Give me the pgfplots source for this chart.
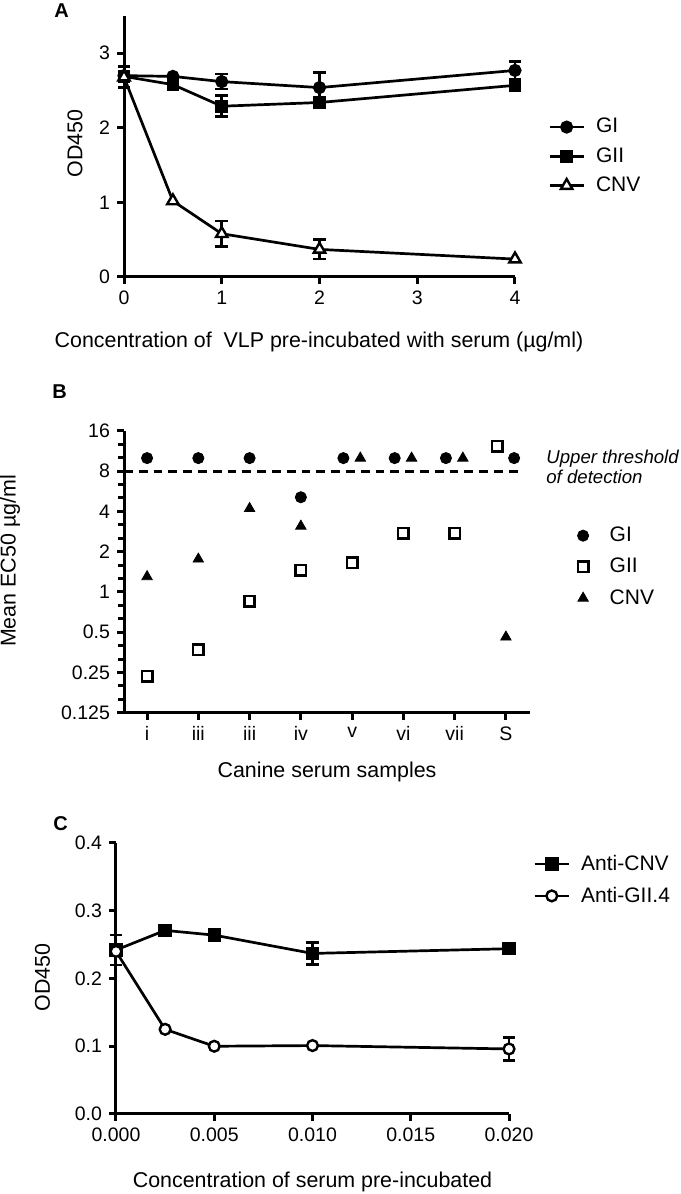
\documentclass[border=0pt]{standalone}
\usepackage{fontspec}
\setmainfont{Liberation Sans}
\usepackage{pgfplots}
\pgfplotsset{compat=1.18}

\pgfplotsset{prism/.style={
  scale only axis,
  axis lines=left,
  axis line style={line width=1.5pt, -},
  tick style={line width=1.5pt, black},
  tick align=outside,
  major tick length=3.5pt,
  minor tick length=3pt,
  tick label style={font=\fontsize{9.75}{11}\selectfont},
  /pgf/number format/assume math mode=true,
  legend style={draw=none, fill=none, inner sep=0pt, font=\fontsize{10.5}{12}\selectfont, cells={anchor=west}},
  legend cell align=left,
  clip=false,
}}
\pgfplotsset{errb/.style={error bars/.cd, y dir=both, y explicit,
  error bar style={line width=1.3pt, black},
  error mark options={rotate=90, mark size=3.2pt, line width=1.3pt, black}}}

% Panel A data: x, y (means)
\pgfplotstableread{
x y
0 2.70
0.5 2.69
1 2.62
2 2.54
4 2.77
}\AGI
\pgfplotstableread{
x y
0 2.69
0.5 2.58
1 2.29
2 2.34
4 2.57
}\AGII
\pgfplotstableread{
x y
0 2.68
0.5 1.02
1 0.58
2 0.37
4 0.24
}\ACNV
% Panel A: error bars that stand out from the markers
\pgfplotstableread{
x y e
1 2.62 0.10
2 2.54 0.20
4 2.77 0.12
}\AGIe
\pgfplotstableread{
x y e
1 2.29 0.14
2 2.34 0.07
4 2.57 0.06
}\AGIIe
\pgfplotstableread{
x y e
0 2.68 0.14
1 0.58 0.17
2 0.37 0.13
}\ACNVe
% Panel B
\pgfplotstableread{
x y
0 10
1 10
2 10
3 5.1
3.83 10
4.83 10
5.83 10
7.16 10
}\BGI
\pgfplotstableread{
x y
0 0.235
1 0.37
2 0.85
3 1.45
4 1.65
5 2.75
6 2.75
6.83 12.3
}\BGII
\pgfplotstableread{
x y
0 1.30
1 1.76
2 4.2
3 3.1
4.16 10
5.16 10
6.16 10
7 0.46
}\BCNV
% Panel C
\pgfplotstableread{
x y
0 0.242
0.0025 0.271
0.005 0.264
0.010 0.237
0.020 0.244
}\CCNV
\pgfplotstableread{
x y
0 0.240
0.0025 0.125
0.005 0.100
0.010 0.101
0.020 0.096
}\CGII
\pgfplotstableread{
x y e
0 0.242 0.022
0.010 0.237 0.016
}\CCNVe
\pgfplotstableread{
x y e
0.020 0.096 0.017
}\CGIIe

\begin{document}
\begin{tikzpicture}
% ---------------- Panel A ----------------
\begin{axis}[prism,
  at={(62pt,458.5pt)}, anchor=south west,
  width=195.5pt, height=130.5pt,
  xmin=0, xmax=4, ymin=0, ymax=3.5,
  xtick={0,1,2,3,4}, ytick={0,1,2,3},
  legend style={at={(1.084,0.625)}, anchor=north west, row sep=1.8pt,
    /tikz/every odd column/.append style={column sep=3.5pt}},
]
\addplot[only marks, mark=none, forget plot, errb] table[x=x, y=y, y error=e] {\AGIe};
\addplot[only marks, mark=none, forget plot, errb] table[x=x, y=y, y error=e] {\AGIIe};
\addplot[only marks, mark=none, forget plot, errb] table[x=x, y=y, y error=e] {\ACNVe};
\addplot[black, line width=1.35pt, mark=*, mark size=2.6pt, mark options={solid, fill=black}] table[x=x, y=y] {\AGI};
\addlegendentry{GI}
\addplot[black, line width=1.35pt, mark=square*, mark size=2.5pt, mark options={solid, fill=black}] table[x=x, y=y] {\AGII};
\addlegendentry{GII}
\addplot[black, line width=1.35pt, mark=triangle*, mark size=3.3pt, mark options={solid, fill=white, draw=black, line width=1.2pt}] table[x=x, y=y] {\ACNV};
\addlegendentry{CNV}
\end{axis}

% ---------------- Panel B ----------------
\begin{axis}[prism,
  at={(62pt,240.6pt)}, anchor=south west,
  width=203pt, height=141pt,
  xmin=-0.45, xmax=7.47,
  ymode=log, log basis y=2, ymin=0.125, ymax=16,
  xtick={0,1,2,3,4,5,6,7},
  xticklabels={i,iii,iii,iv,v,vi,vii,S},
  ytick={0.125,0.25,0.5,1,2,4,8,16},
  yticklabels={0.125,0.25,0.5,1,2,4,8,16},
  minor y tick num=0,
  extra y ticks={0.15749,0.19843,0.31498,0.39685,0.62996,0.79370,1.25992,1.58740,2.51984,3.17480,5.03968,6.34960,10.0794,12.6992},
  extra y tick labels={},
  extra y tick style={major tick length=3pt, tick style={line width=1.5pt, black}},
  legend style={at={(1.116,0.675)}, anchor=north west, row sep=2.8pt,
    /tikz/every odd column/.append style={column sep=8.5pt}},
]
\addplot[only marks, mark=*, mark size=2.8pt, mark options={fill=black, draw=black}] table[x=x, y=y] {\BGI};
\addlegendentry{GI}
\addplot[only marks, mark=square, mark size=2.6pt, mark options={draw=black, line width=1.3pt}] table[x=x, y=y] {\BGII};
\addlegendentry{GII}
\addplot[only marks, mark=triangle*, mark size=3pt, mark options={fill=black, draw=black}] table[x=x, y=y] {\BCNV};
\addlegendentry{CNV}
\addplot[black, line width=1.5pt, dash pattern=on 4.4pt off 3pt, forget plot] coordinates {(-0.45,8) (7.31,8)};
\end{axis}

% ---------------- Panel C ----------------
\begin{axis}[prism,
  at={(58pt,40pt)}, anchor=south west,
  width=196.5pt, height=135.5pt,
  xmin=0, xmax=0.02, ymin=0, ymax=0.4,
  xtick={0,0.005,0.01,0.015,0.02},
  ytick={0,0.1,0.2,0.3,0.4},
  scaled x ticks=false, scaled y ticks=false,
  xticklabel style={/pgf/number format/.cd, fixed, fixed zerofill, precision=3},
  yticklabel style={/pgf/number format/.cd, fixed, fixed zerofill, precision=1},
  legend style={at={(1.061,0.972)}, anchor=north west, row sep=2.8pt,
    /tikz/every odd column/.append style={column sep=3.5pt}},
]
\addplot[only marks, mark=none, forget plot, errb] table[x=x, y=y, y error=e] {\CCNVe};
\addplot[only marks, mark=none, forget plot, errb] table[x=x, y=y, y error=e] {\CGIIe};
\addplot[black, line width=1.35pt, mark=square*, mark size=2.7pt, mark options={solid, fill=black}] table[x=x, y=y] {\CCNV};
\addlegendentry{Anti-CNV}
\addplot[black, line width=1.35pt, mark=*, mark size=2.7pt, mark options={solid, fill=white, draw=black, line width=1.2pt}] table[x=x, y=y] {\CGII};
\addlegendentry{Anti-GII.4}
\end{axis}

% ---------------- labels ----------------
\begin{scope}[every node/.style={font=\fontsize{10.7}{12}\selectfont, inner sep=0pt}]
\node[font=\fontsize{10}{12}\selectfont\bfseries] at (30.75pt,591.5pt) {A};
\node[rotate=90] at (37.5pt,525.25pt) {OD450};
\node at (159.5pt,426.25pt) {Concentration of\ \ VLP pre-incubated with serum (µg/ml)};

\node[font=\fontsize{10}{12}\selectfont\bfseries] at (29.75pt,401pt) {B};
\node[rotate=90] at (5pt,316.5pt) {Mean EC50 µg/ml};
\node at (163.5pt,211.25pt) {Canine serum samples};
\node[anchor=west, align=left, font=\fontsize{9.3}{10}\selectfont\itshape] at (273pt,363.5pt) {Upper threshold\\of detection};

\node[font=\fontsize{10}{12}\selectfont\bfseries] at (30.25pt,185.25pt) {C};
\node[rotate=90] at (21.25pt,108.25pt) {OD450};
\node at (156.25pt,6.25pt) {Concentration of serum pre-incubated};
\end{scope}

\pgfresetboundingbox
\path (0,0) rectangle (340pt,597pt);
\end{tikzpicture}
\end{document}
